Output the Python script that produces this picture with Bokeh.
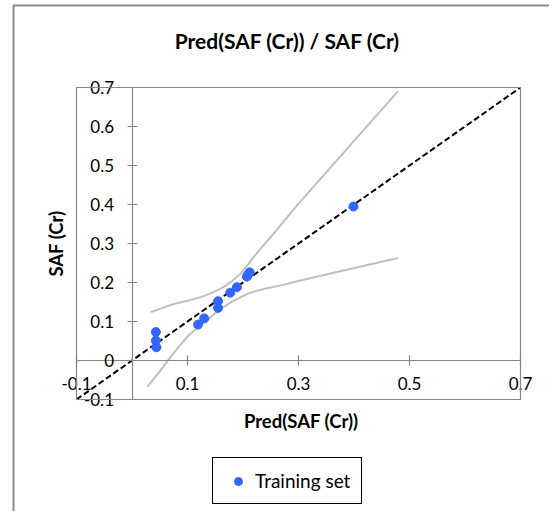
from bokeh.plotting import figure
from bokeh.models import Range1d, FixedTicker, Label, Legend, LegendItem, BoxAnnotation, LinearAxis
from bokeh.embed import file_html
from bokeh.resources import INLINE
import math

# ---- data ----
pred = [0.043, 0.043, 0.044, 0.119, 0.130, 0.155, 0.155, 0.177, 0.189, 0.207, 0.209, 0.212, 0.399]
obs = [0.073, 0.051, 0.034, 0.092, 0.108, 0.152, 0.135, 0.174, 0.188, 0.215, 0.220, 0.226, 0.395]

upper_x = [0.034, 0.075, 0.100, 0.123, 0.145, 0.165, 0.180, 0.195, 0.207, 0.219, 0.235, 0.255, 0.297, 0.479]
upper_y = [0.124, 0.145, 0.153, 0.162, 0.174, 0.188, 0.203, 0.222, 0.242, 0.265, 0.292, 0.325, 0.397, 0.690]
lower_x = [0.028, 0.050, 0.069, 0.085, 0.099, 0.117, 0.135, 0.150, 0.165, 0.180, 0.195, 0.210, 0.225, 0.245, 0.267, 0.303, 0.479]
lower_y = [-0.067, -0.028, 0.008, 0.036, 0.060, 0.083, 0.103, 0.121, 0.137, 0.151, 0.162, 0.172, 0.179, 0.186, 0.192, 0.205, 0.263]

ideal = [-0.1, 0.7]

x_ticks = [-0.1, 0.1, 0.3, 0.5, 0.7]
x_tick_labels = ["-0.1", "0.1", "0.3", "0.5", "0.7"]
y_ticks = [-0.1, 0.0, 0.1, 0.2, 0.3, 0.4, 0.5, 0.6, 0.7]
y_tick_labels = ["-0.1", "0", "0.1", "0.2", "0.3", "0.4", "0.5", "0.6", "0.7"]

title_text = "Pred(SAF (Cr)) / SAF (Cr)"
x_title = "Pred(SAF (Cr))"
y_title = "SAF (Cr)"
series_name = "Training set"

FONT = "Lato"
GRID = "#868686"

# plot area -0.1..0.7 on both axes; the frame spans the whole canvas
W, H = 549, 511
PX_X, PX_Y = 555.0, 390.0      # pixels per data unit
LEFT_PX, TOP_PX = 76, 87       # plot-area corner in the canvas
x0 = -0.1 - LEFT_PX / PX_X
x1 = x0 + W / PX_X
y1 = 0.7 + TOP_PX / PX_Y
y0 = y1 - H / PX_Y

p = figure(width=W, height=H, output_backend="svg", toolbar_location=None,
           x_range=Range1d(x0, x1), y_range=Range1d(y0, y1),
           x_axis_location=None, y_axis_location=None,
           min_border_left=0, min_border_right=0, min_border_top=0, min_border_bottom=0)
p.title = None
p.grid.visible = False
p.outline_line_color = None
p.background_fill_color = "white"
p.border_fill_color = "white"

xaxis = LinearAxis(fixed_location=0, bounds=(-0.1, 0.7), ticker=FixedTicker(ticks=x_ticks),
                   major_label_overrides={t: l for t, l in zip(x_ticks, x_tick_labels)},
                   major_label_standoff=11)
yaxis = LinearAxis(fixed_location=0, bounds=(-0.1, 0.7), ticker=FixedTicker(ticks=y_ticks),
                   major_label_overrides={t: l for t, l in zip(y_ticks, y_tick_labels)},
                   major_label_standoff=13)
for ax in (xaxis, yaxis):
    ax.axis_line_color = GRID
    ax.axis_line_width = 1.2
    ax.major_tick_line_color = GRID
    ax.major_tick_line_width = 1.2
    ax.major_tick_in = 5
    ax.major_tick_out = 5
    ax.minor_tick_line_color = None
    ax.major_label_text_font = FONT
    ax.major_label_text_font_size = "17px"
    ax.major_label_text_color = "black"
p.add_layout(xaxis, "below")
p.add_layout(yaxis, "left")

# plot-area border and outer chart border
p.add_layout(BoxAnnotation(left=-0.1, right=0.7, bottom=-0.1, top=0.7, fill_alpha=0,
                           line_color=GRID, line_width=1.2, line_alpha=1))
p.add_layout(BoxAnnotation(left=-0.1 - 63 / PX_X, right=2.0, top=0.7 + 82 / PX_Y, bottom=-2.0,
                           fill_alpha=0, line_color="#8C8C8C", line_width=2, line_alpha=1))

# confidence bands
p.line(upper_x, upper_y, line_color="#BFBFBF", line_width=2)
p.line(lower_x, lower_y, line_color="#BFBFBF", line_width=2)
# ideal line
p.line(ideal, ideal, line_color="black", line_width=2, line_dash="6 3")
# points
r = p.scatter(pred, obs, size=9, fill_color="#3366FF", line_color="#3366FF")

# titles
p.add_layout(Label(x=0.28, y=0.8205, text=title_text, text_font=FONT, text_font_style="bold",
                   text_font_size="21px", text_align="center", text_baseline="middle",
                   text_color="black"))
p.add_layout(Label(x=0.305, y=-0.154, text=x_title, text_font=FONT, text_font_style="bold",
                   text_font_size="18.5px", text_align="center", text_baseline="middle",
                   text_color="black"))
p.add_layout(Label(x=-0.1378, y=0.3, text=y_title, text_font=FONT, text_font_style="bold",
                   text_font_size="18.5px", text_align="center", text_baseline="middle",
                   angle=math.pi / 2, text_color="black"))

legend = Legend(items=[LegendItem(label=series_name, renderers=[r])], location=(212, H - 504),
                border_line_color="black", border_line_width=1.5, border_line_alpha=1,
                padding=11, margin=0,
                glyph_width=28, glyph_height=20, label_standoff=3, spacing=0,
                label_text_font=FONT, label_text_font_size="19px", label_text_color="black",
                background_fill_color="white", background_fill_alpha=1)
p.add_layout(legend)

open("out.html", "w").write(file_html(p, INLINE))
